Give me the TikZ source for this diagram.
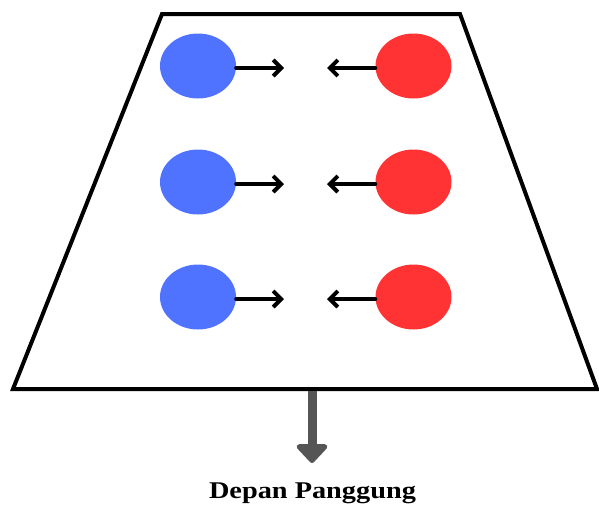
\documentclass[tikz,border=0pt]{standalone}
\usepackage{fontspec}
\setmainfont{Liberation Serif}
\usetikzlibrary{arrows.meta,shapes.geometric}
\definecolor{dancerblue}{RGB}{80,115,255}
\definecolor{dancerred}{RGB}{255,51,51}
\definecolor{frontgray}{RGB}{85,85,85}
\tikzset{
  dancer/.style={ellipse, minimum width=76pt, minimum height=65pt, inner sep=0pt},
  bluedancer/.style={dancer, fill=dancerblue},
  reddancer/.style={dancer, fill=dancerred},
  movearrow/.style={line width=4pt, -{Straight Barb[length=8pt,width=16pt,line width=4pt]}, line cap=round},
  stageline/.style={line width=4pt, line join=miter},
  frontarrow/.style={draw=frontgray, line width=9pt, -{Triangle[length=20pt,width=36pt,round]}, frontgray}
}
\begin{document}
\begin{tikzpicture}[x=1pt,y=-1pt]
\useasboundingbox (0,0) rectangle (599,504);
\draw[stageline] (162,14) -- (460,14) -- (597,389) -- (13,389) -- cycle;
\foreach \i/\y in {1/66,2/182,3/297}{
  \node[bluedancer] (b\i) at (198,\y) {};
  \node[reddancer] (r\i) at (413.5,\y) {};
  \coordinate (bt\i) at (284,\y+2);
  \coordinate (rt\i) at (327,\y+2);
  \draw[movearrow] (b\i.east |- bt\i) -- (bt\i);
  \draw[movearrow] (r\i.west |- rt\i) -- (rt\i);
}
\coordinate (fs) at (312,391);
\coordinate (fe) at (312,463);
\draw[frontarrow] (fs) -- (fe);
\node[font=\fontsize{24}{28}\selectfont\bfseries, xscale=1.18, anchor=base, inner sep=0pt] (lbl) at (312.5,498) {Depan Panggung};
\end{tikzpicture}
\end{document}
